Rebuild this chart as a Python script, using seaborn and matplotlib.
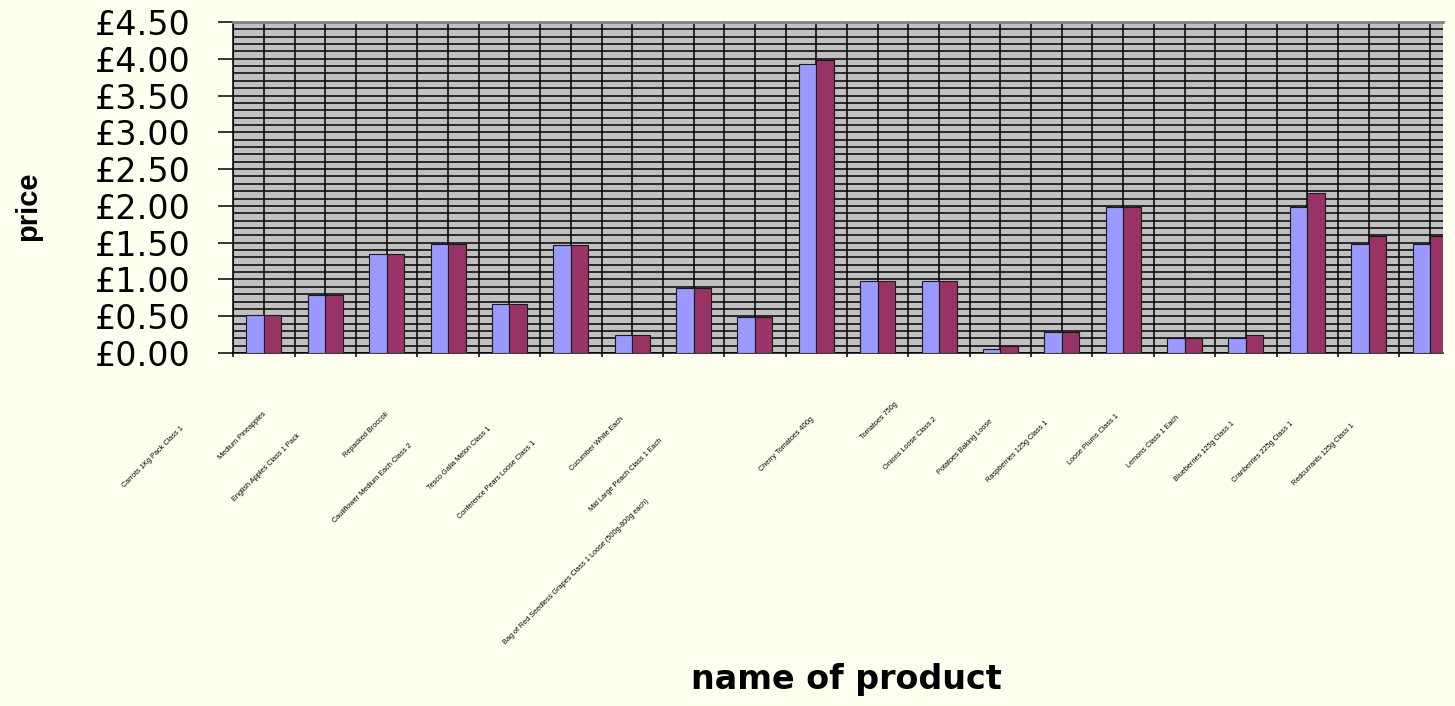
import numpy as np
import pandas as pd
import matplotlib
matplotlib.use("Agg")
import matplotlib.pyplot as plt
import seaborn as sns
from matplotlib import font_manager as fm
from matplotlib.ticker import MultipleLocator, FixedLocator, FuncFormatter
from matplotlib.transforms import ScaledTranslation

# ---------------- data ----------------
products = [
    "Carrots 1Kg Pack Class 1",
    "Medium Pineapples",
    "English Apples Class 1 Pack",
    "Repacked Broccoli",
    "Cauliflower Medium Each Class 2",
    "Tesco Galia Melon Class 1",
    "Conference Pears Loose Class 1",
    "Cucumber White Each",
    "Mid Large Peach Class 1 Each",
    "Bag of Red Seedless Grapes Class 1 Loose (500g-800g each)",
    "Cherry Tomatoes 400g",
    "Tomatoes 750g",
    "Onions Loose Class 2",
    "Potatoes Baking Loose",
    "Raspberries 125g Class 1",
    "Loose Plums Class 1",
    "Lemons Class 1 Each",
    "Blueberries 125g Class 1",
    "Cranberries 225g Class 1",
    "Redcurrants 125g Class 1",
]
series_names = ["price 1", "price 2"]
price_1 = [0.52, 0.79, 1.34, 1.48, 0.67, 1.47, 0.25, 0.89, 0.49, 3.93,
           0.98, 0.98, 0.05, 0.29, 1.99, 0.21, 0.21, 1.99, 1.48, 1.48]
price_2 = [0.52, 0.79, 1.34, 1.48, 0.67, 1.47, 0.25, 0.89, 0.49, 3.98,
           0.98, 0.98, 0.10, 0.29, 1.99, 0.21, 0.25, 2.18, 1.59, 1.59]
y_ticks = [0.0, 0.5, 1.0, 1.5, 2.0, 2.5, 3.0, 3.5, 4.0, 4.5]

df = pd.DataFrame({
    "product": products + products,
    "price": price_1 + price_2,
    "series": [series_names[0]] * len(products) + [series_names[1]] * len(products),
})

# ---------------- style helpers ----------------
def pick_font(names):
    for n in names:
        try:
            fm.findfont(fm.FontProperties(family=n), fallback_to_default=False)
            return n
        except Exception:
            pass
    return "DejaVu Sans"

narrow = pick_font(["Liberation Sans Narrow", "Arial Narrow", "DejaVu Sans Condensed", "Liberation Sans"])
narrow_is_narrow = "Narrow" in narrow or "Condensed" in narrow

# pixel offsets (dx, dy downward) of each category label's end from its tick
label_offsets = [(-81, 74), (-60, 60), (-87, 82), (-61, 60), (-98, 92),
                 (-81, 75), (-97, 89), (-71, 65), (-93, 87), (-168, 147),
                 (-65, 65), (-42, 50), (-65, 65), (-70, 67), (-76, 69),
                 (-67, 62), (-68, 64), (-74, 70), (-76, 70), (-77, 72)]

W, H, DPI = 1455, 706, 100
fig = plt.figure(figsize=(W / DPI, H / DPI), dpi=DPI, facecolor="#FFFFF0")
ax_left, ax_right, ax_top, ax_bottom = 233.3, 1443.0, 22.0, 353.0
ax = fig.add_axes([ax_left / W, 1 - ax_bottom / H, (ax_right - ax_left) / W, (ax_bottom - ax_top) / H])
ax.set_facecolor("#C0C0C0")

sns.barplot(data=df, x="product", y="price", hue="series",
            palette=["#9999FF", "#993366"], width=0.57, saturation=1,
            edgecolor="#1a1a1a", linewidth=0.8, errorbar=None,
            legend=False, ax=ax, zorder=3)

ax.set_ylim(0, 4.5)
ax.set_xlim(-0.5, -0.5 + (ax_right - ax_left) / 61.37)

ax.yaxis.set_major_locator(FixedLocator(y_ticks))
ax.yaxis.set_minor_locator(MultipleLocator(0.1))
ax.yaxis.set_major_formatter(FuncFormatter(lambda v, p: f"£{v:.2f}"))
ax.xaxis.set_minor_locator(FixedLocator(np.arange(-0.5, len(products), 1.0)))

ax.set_axisbelow(True)
ax.grid(True, which="both", axis="both", color="black", linewidth=1.1, zorder=0)

ax.tick_params(axis="y", which="major", length=10.8, width=1.1, pad=20,
               labelsize=24, color="black")
ax.tick_params(axis="y", which="minor", length=0)
ax.tick_params(axis="x", which="major", length=0, pad=0)
ax.tick_params(axis="x", which="minor", length=3, width=1.1, color="black")
for t in ax.get_yticklabels():
    t.set_family("DejaVu Sans")

ax.set_xticks(range(len(products)))
ax.set_xticklabels(products, rotation=45, ha="right", va="center",
                   rotation_mode="anchor", color="black",
                   fontsize=6.3 if narrow_is_narrow else 5.3, family=narrow)
for lbl, (dx, dy) in zip(ax.get_xticklabels(), label_offsets):
    lbl.set_transform(lbl.get_transform() + ScaledTranslation(dx / DPI, -dy / DPI, fig.dpi_scale_trans))

for s in ["left", "bottom"]:
    ax.spines[s].set_color("black")
    ax.spines[s].set_linewidth(1.1)
ax.spines["top"].set_color("#808080")
ax.spines["top"].set_linewidth(2)
ax.spines["right"].set_visible(False)

ax.set_ylabel("price", fontsize=21, fontweight="bold", family=narrow, va="center")
ax.yaxis.set_label_coords((28 - ax_left) / (ax_right - ax_left), (ax_bottom - 206) / (ax_bottom - ax_top))
ax.set_xlabel("name of product", fontsize=24, fontweight="bold", family="DejaVu Sans", va="center")
ax.xaxis.set_label_coords((846 - ax_left) / (ax_right - ax_left), (ax_bottom - 680) / (ax_bottom - ax_top))

fig.savefig("out.png", dpi=DPI, facecolor=fig.get_facecolor())
